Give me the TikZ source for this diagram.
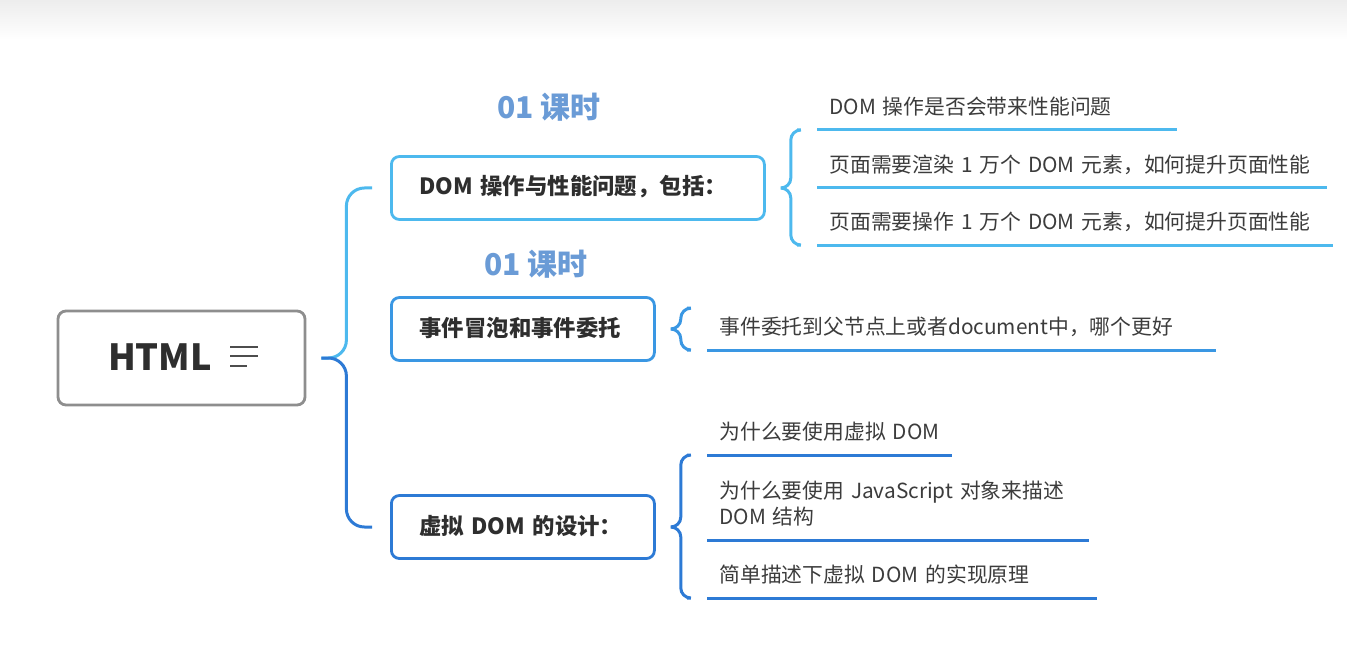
\documentclass[tikz,border=0pt]{standalone}
\usepackage{fontspec}
\setmainfont{Noto Sans CJK SC}
\usetikzlibrary{positioning,
calc}
\definecolor{topGray}{HTML}{EDEDED}
\definecolor{frameGray}{HTML}{8E8E8E}
\definecolor{ink}{HTML}{2E2E2E}
\definecolor{leafInk}{HTML}{3C3C3C}
\definecolor{tagBlue}{HTML}{6A9BD6}
\definecolor{lineSky}{HTML}{4DB9EE}
\definecolor{lineMid}{HTML}{3A97E3}
\definecolor{lineDeep}{HTML}{2D7AD5}
\tikzstyle{Root} = [
draw=frameGray, line width=1.4pt, rounded corners=4pt,
minimum width=123.5pt, minimum height=47pt
]
\tikzstyle{Topic} = [
draw, line width=1.4pt, rounded corners=4pt, fill=white, anchor=west,
text=ink, font=\bfseries\fontsize{11.2}{14}\selectfont, align=left,
inner xsep=14pt, minimum height=31.5pt, text height=9pt, text depth=2pt
]
\tikzstyle{Leaf} = [
anchor=south west, text=leafInk, font=\fontsize{10.4}{13}\selectfont,
align=left, inner xsep=6pt, inner ysep=5pt, text height=8pt, text depth=2.5pt
]
\tikzstyle{Tag} = [text=tagBlue, font=\bfseries\fontsize{15}{18}\selectfont]
\tikzstyle{Brace} = [line width=1.5pt, rounded corners=9pt]
\tikzstyle{SubBrace} = [line width=1.5pt, rounded corners=5pt]
\tikzstyle{Underline} = [line width=1.5pt]
\begin{document}
\begin{tikzpicture}[x=0.5pt, y=-0.5pt]
            \fill[white] (0,0) rectangle (1347,663);
            \shade[top color=topGray, bottom color=white] (0,0) rectangle (1347,40);
            \useasboundingbox (0,0) rectangle (1347,663);

            \node[Root] (html) at (181.5,358) {};
            \node[text=ink, font=\bfseries\fontsize{18}{20}\selectfont] (htmltext) at (160,357) {HTML};
            \foreach \y/\w in {347/28, 356/28, 366/17}
                \draw[line width=1.2pt, ink!85] (230,\y) -- ++(\w,0);

            \node[Topic, draw=lineSky, text width=158.5pt] (dom) at (390,188) {DOM 操作与性能问题，包括：};
            \node[Topic, draw=lineMid, text width=103.5pt] (event) at (390,329) {事件冒泡和事件委托};
            \node[Topic, draw=lineDeep, text width=103.5pt] (vdom) at (390,527) {虚拟 DOM 的设计：};

            \node[Tag] (tagdom) at (549,107) {01 课时};
            \node[Tag] (tagevent) at (536,264) {01 课时};

            \node[Leaf, text width=167.5pt] (dom1) at (817,130) {DOM~操作是否会带来性能问题};
            \node[Leaf, text width=242.5pt] (dom2) at (817,188) {页面需要渲染~1~万个~DOM~元素，如何提升页面性能};
            \node[Leaf, text width=245.5pt] (dom3) at (817,245) {页面需要操作~1~万个~DOM~元素，如何提升页面性能};
            \node[Leaf, text width=242pt] (event1) at (707,350) {事件委托到父节点上或者document中，哪个更好};
            \node[Leaf, text width=110pt] (vdom1) at (707,455) {为什么要使用虚拟~DOM};
            \node[Leaf, text width=178.5pt, text depth=15.5pt] (vdom2) at (707,540) {为什么要使用~JavaScript~对象来描述\\DOM~结构};
            \node[Leaf, text width=182.5pt] (vdom3) at (707,598) {简单描述下虚拟~DOM~的实现原理};

            \foreach \n/\c in {dom1/lineSky, dom2/lineSky, dom3/lineSky, event1/lineMid,
                               vdom1/lineDeep, vdom2/lineDeep, vdom3/lineDeep}
                \draw[Underline, \c] (\n.south west) -- (\n.south east);

            \coordinate (hub) at ([xshift=7.5pt]html.east);
            \draw[Brace, lineSky] (hub) -- ++(12.5pt,0) |- ([xshift=-9pt]dom.west);
            \draw[Brace, lineDeep] (hub) -- ++(12.5pt,0) |- ([xshift=-9pt]vdom.west);

            \foreach \t/\a/\b/\c in {dom/dom1.south west/dom3.south west/lineSky,
                                     event/event1.north west/event1.south west/lineMid,
                                     vdom/vdom1.south west/vdom3.south west/lineDeep} {
                \coordinate (tip) at ([xshift=7.5pt]\t.east);
                \draw[SubBrace, \c] (tip) -- ++(5pt,0) |- ([xshift=-10pt]\a);
                \draw[SubBrace, \c] (tip) -- ++(5pt,0) |- ([xshift=-10pt]\b);
            }
        \end{tikzpicture}
\end{document}
